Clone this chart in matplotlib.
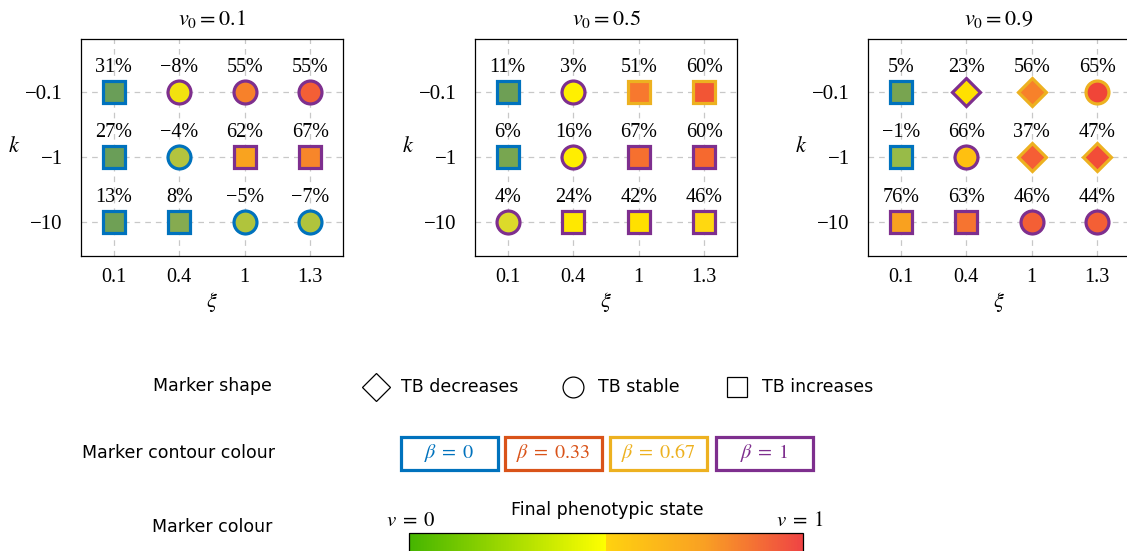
import matplotlib
matplotlib.use("Agg")
import matplotlib.pyplot as plt
from matplotlib.colors import LinearSegmentedColormap
from matplotlib.patches import Rectangle
import matplotlib.cm as cm
import numpy as np

plt.rcParams['font.family'] = ['Liberation Serif', 'DejaVu Serif']
plt.rcParams['mathtext.fontset'] = 'stix'

# ---------------- data ----------------
xi_labels = ['0.1', '0.4', '1', '1.3']
k_labels = ['\u22120.1', '\u22121', '\u221210']
v0_values = ['0.1', '0.5', '0.9']

# percentage change labels (rows: k = -0.1, -1, -10; cols: xi)
pct_v01 = [[31, -8, 55, 55], [27, -4, 62, 67], [13, 8, -5, -7]]
pct_v05 = [[11, 3, 51, 60], [6, 16, 67, 60], [4, 24, 42, 46]]
pct_v09 = [[5, 23, 56, 65], [-1, 66, 37, 47], [76, 63, 46, 44]]

# TB trend: 'dec' (diamond), 'stab' (circle), 'inc' (square)
trend_v01 = [['inc', 'stab', 'stab', 'stab'], ['inc', 'stab', 'inc', 'inc'], ['inc', 'inc', 'stab', 'stab']]
trend_v05 = [['inc', 'stab', 'inc', 'inc'], ['inc', 'stab', 'inc', 'inc'], ['stab', 'inc', 'inc', 'inc']]
trend_v09 = [['inc', 'dec', 'dec', 'stab'], ['inc', 'stab', 'dec', 'dec'], ['inc', 'inc', 'stab', 'stab']]

# beta (marker contour)
beta_v01 = [[0, 1, 1, 1], [0, 0, 1, 1], [0, 0, 0, 0]]
beta_v05 = [[0, 1, 0.67, 0.67], [0, 1, 1, 1], [1, 1, 1, 1]]
beta_v09 = [[0, 1, 0.67, 0.67], [0, 1, 0.67, 0.67], [1, 1, 1, 1]]

# final phenotypic state colour (marker fill)
fill_v01 = [['#6a9e58', '#f2e20f', '#f7812a', '#f45f35'],
            ['#6a9e58', '#b3c43e', '#f9a31f', '#f7862a'],
            ['#6fa055', '#86ab50', '#b0c43c', '#b0c43c']]
fill_v05 = [['#6e9f55', '#fff000', '#f7782e', '#f25535'],
            ['#78a650', '#ffee00', '#f6702f', '#f6692f'],
            ['#dcda2a', '#ffe800', '#ffe000', '#ffd810']]
fill_v09 = [['#78a450', '#ffe000', '#f7812a', '#f04538'],
            ['#98bb48', '#ffc010', '#f55e35', '#f24d38'],
            ['#f9a11f', '#f67430', '#f45f35', '#f45f35']]

beta_levels = [0, 0.33, 0.67, 1]
beta_labels = ['0', '0.33', '0.67', '1']
beta_colors = ['#0072bd', '#d95319', '#edb120', '#7e2f8e']
trend_names = ['dec', 'stab', 'inc']
trend_labels = ['TB decreases', 'TB stable', 'TB increases']
trend_markers = ['D', 'o', 's']

cmap_nodes = [(0.0, '#45b500'), (0.4999, '#ffff00'), (0.5, '#ffd20f'),
              (0.75, '#f9a023'), (1.0, '#ef4444')]

# ---------------- layout ----------------
W, H = 1127, 551
fig = plt.figure(figsize=(W / 100, H / 100), dpi=100)


def px(l, t, r, b):
    return [l / W, 1 - b / H, (r - l) / W, (b - t) / H]


panel_boxes = [(81, 39, 343, 256), (475, 39, 737, 256), (868, 39, 1130, 256)]
pcts = [pct_v01, pct_v05, pct_v09]
trends = [trend_v01, trend_v05, trend_v09]
betas = [beta_v01, beta_v05, beta_v09]
fills = [fill_v01, fill_v05, fill_v09]

mk_of = dict(zip(trend_names, trend_markers))
col_of = dict(zip(beta_levels, beta_colors))
ms_of = {'s': 16, 'o': 16.5, 'D': 14.5}

for p in range(3):
    ax = fig.add_axes(px(*panel_boxes[p]))
    ax.set_xlim(-0.5, 3.5)
    ax.set_ylim(2.52, -0.81)
    ax.set_xticks(range(len(xi_labels)))
    ax.set_xticklabels(xi_labels, fontsize=14.5)
    ax.set_yticks(range(len(k_labels)))
    ax.set_yticklabels(k_labels, fontsize=15)
    ax.tick_params(axis='x', length=0, pad=9)
    ax.tick_params(axis='y', length=0, pad=13)
    ax.grid(True, color='#c8c8c8', linestyle=(0, (4.5, 4)), linewidth=0.9)
    ax.set_axisbelow(True)
    for s in ax.spines.values():
        s.set_linewidth(0.9)
    ax.set_title(r'$v_0 = %s$' % v0_values[p], fontsize=16, pad=10)
    ax.set_xlabel(r'$\xi$', fontsize=16, labelpad=2)
    ax.set_ylabel(r'$k$', fontsize=16, rotation=0, labelpad=8, va='center')
    for i in range(3):
        for j in range(4):
            m = mk_of[trends[p][i][j]]
            ax.plot(j, i, marker=m, ms=ms_of[m], mfc=fills[p][i][j],
                    mec=col_of[betas[p][i][j]], mew=2.3, linestyle='none', zorder=3)
            v = pcts[p][i][j]
            s = ('\u2212%d%%' % -v) if v < 0 else ('%d%%' % v)
            ax.annotate(s, (j, i), xytext=(0, 14.5), textcoords='offset points',
                        ha='center', va='baseline', fontsize=14.5)

# ---------------- legend area ----------------
lg = fig.add_axes([0, 0, 1, 1])
lg.set_xlim(0, W)
lg.set_ylim(H, 0)
lg.axis('off')
sans = ['DejaVu Sans']
fs_sans = 12.5

lg.text(212, 386, 'Marker shape', ha='center', va='center', fontsize=fs_sans, family=sans)
lg.text(179, 453, 'Marker contour colour', ha='center', va='center', fontsize=fs_sans, family=sans)
lg.text(212, 527, 'Marker colour', ha='center', va='center', fontsize=fs_sans, family=sans)

shape_x = [376, 573, 737]
shape_ms = [14.5, 15, 14.5]
for x, m, lab, msz in zip(shape_x, trend_markers, trend_labels, shape_ms):
    lg.plot(x, 387, marker=m, ms=msz, mfc='white', mec='black', mew=0.9, linestyle='none')
    lg.text(x + 25, 387, lab, ha='left', va='center', fontsize=fs_sans, family=sans)

box_left = [399, 503, 608, 714]
for x0, c, lab in zip(box_left, beta_colors, beta_labels):
    lg.add_patch(Rectangle((x0 + 1.5, 436.5), 97, 33, fill=False, edgecolor=c, linewidth=2.3))
    lg.text(x0 + 50, 453, r'$\beta\;=\;%s$' % lab, ha='center', va='center', fontsize=14.5, color=c)

lg.text(607, 510, 'Final phenotypic state', ha='center', va='center', fontsize=fs_sans, family=sans)
lg.text(411, 521, r'$v\;=\;0$', ha='center', va='center', fontsize=15)
lg.text(800, 521, r'$v\;=\;1$', ha='center', va='center', fontsize=15)

cmap = LinearSegmentedColormap.from_list('pheno', cmap_nodes)
cax = fig.add_axes(px(409, 533, 803, 560))
cb = fig.colorbar(cm.ScalarMappable(cmap=cmap), cax=cax, orientation='horizontal')
cb.set_ticks([])
cb.outline.set_linewidth(0.9)

fig.savefig('out.png', dpi=100)
